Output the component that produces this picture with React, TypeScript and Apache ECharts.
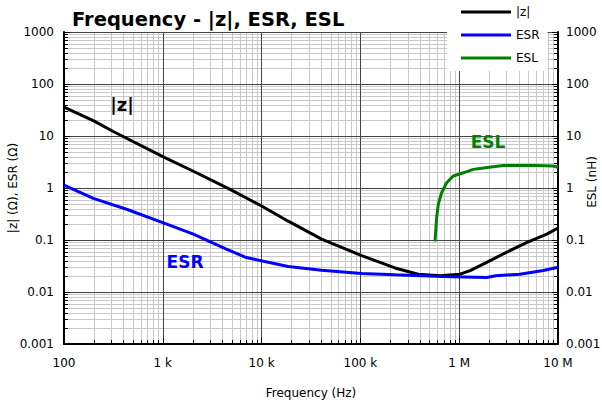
import React, { useEffect, useRef } from 'react';
import * as echarts from 'echarts';

// ---- data ----
const xTickLabels = ['100', '1 k', '10 k', '100 k', '1 M', '10 M'];
const yTickLabels = ['0.001', '0.01', '0.1', '1', '10', '100', '1000'];

const zFreq = [100, 200, 315, 1000, 2040, 4800, 10000, 18600, 40500, 103000, 224000, 385000, 640000, 1020000, 1290000, 1900000, 3000000, 4800000, 7700000, 10000000];
const zValues = [36, 19.5, 12.2, 4.0, 2.1, 0.94, 0.45, 0.23, 0.104, 0.05, 0.029, 0.022, 0.0206, 0.022, 0.0257, 0.037, 0.058, 0.089, 0.13, 0.17];

const esrFreq = [100, 198, 430, 1000, 2040, 4400, 7000, 12000, 18600, 40500, 103000, 224000, 665000, 1900000, 2350000, 4100000, 7100000, 10000000];
const esrValues = [1.13, 0.63, 0.39, 0.216, 0.13, 0.067, 0.046, 0.037, 0.031, 0.0263, 0.0227, 0.0214, 0.0198, 0.019, 0.0206, 0.022, 0.026, 0.03];

const eslFreq = [569000, 591000, 615000, 665000, 746000, 871000, 1100000, 1390000, 1620000, 2000000, 2800000, 6000000, 8900000, 10000000];
const eslValues = [0.094, 0.27, 0.49, 0.82, 1.26, 1.7, 1.96, 2.28, 2.38, 2.5, 2.72, 2.72, 2.64, 2.5];

const minorMultipliers = [2, 3, 4, 5, 6, 7, 8, 9];
const X_MIN = 100;
const X_MAX = 10000000;
const Y_MIN = 0.001;
const Y_MAX = 1000;

const FONT = 'DejaVu Sans';

export default function App() {
  const ref = useRef<HTMLDivElement>(null);

  useEffect(() => {
    const chart = echarts.init(ref.current!, null, { renderer: 'svg' });

    const minorX: number[] = [];
    for (let e = 2; e < 7; e++) for (const m of minorMultipliers) minorX.push(m * Math.pow(10, e));
    const minorY: number[] = [];
    for (let e = -3; e < 3; e++) for (const m of minorMultipliers) minorY.push(m * Math.pow(10, e));

    const crisp = (v: number) => Math.round(v) + 0.5;

    const xLabel = (v: number) => {
      const i = Math.round(Math.log10(v)) - 2;
      return xTickLabels[i] ?? '';
    };
    const yLabel = (v: number) => {
      const i = Math.round(Math.log10(v)) + 3;
      return yTickLabels[i] ?? '';
    };

    const pair = (xs: number[], ys: number[]) => xs.map((x, i) => [x, ys[i]]);

    const lineSeries = (name: string, data: number[][], color: string, yAxisIndex = 0) => ({
      name,
      type: 'line',
      yAxisIndex,
      data,
      showSymbol: false,
      symbol: 'none',
      smooth: false,
      lineStyle: { color, width: 3 },
      itemStyle: { color },
      z: 5,
      silent: true,
    });

    const option: any = {
      animation: false,
      backgroundColor: '#fff',
      textStyle: { fontFamily: FONT },
      grid: { left: 64, right: 44, top: 32, bottom: 59, containLabel: false, outerBoundsMode: 'none' },
      legend: {
        orient: 'vertical',
        left: 447,
        top: 0,
        padding: [6, 8, 7, 14],
        itemGap: 11,
        itemWidth: 50,
        itemHeight: 3,
        icon: 'rect',
        backgroundColor: '#fff',
        textStyle: { fontFamily: FONT, fontSize: 12, color: '#000' },
        data: ['|z|', 'ESR', 'ESL'],
        z: 3,
      },
      graphic: [
        {
          type: 'text', x: 72, y: 19, z: 10,
          style: { text: 'Frequency - |z|, ESR, ESL', fontFamily: FONT, fontSize: 19.5, fontWeight: 'bold', fill: '#000', textVerticalAlign: 'middle' },
        },
        {
          type: 'text', x: 13, y: 188, rotation: Math.PI / 2, z: 10,
          style: { text: '|z| (Ω), ESR (Ω)', fontFamily: FONT, fontSize: 12, fill: '#000', textAlign: 'center', textVerticalAlign: 'middle' },
        },
        {
          type: 'text', x: 592, y: 182, rotation: Math.PI / 2, z: 10,
          style: { text: 'ESL (nH)', fontFamily: FONT, fontSize: 12, fill: '#000', textAlign: 'center', textVerticalAlign: 'middle' },
        },
        {
          type: 'text', x: 122, y: 104, z: 10,
          style: { text: '|z|', fontFamily: FONT, fontSize: 18, fontWeight: 'bold', fill: '#000', textAlign: 'center', textVerticalAlign: 'middle' },
        },
        {
          type: 'text', x: 185, y: 262, z: 10,
          style: { text: 'ESR', fontFamily: FONT, fontSize: 17, fontWeight: 'bold', fill: '#0000ff', textAlign: 'center', textVerticalAlign: 'middle' },
        },
        {
          type: 'text', x: 488, y: 142, z: 10,
          style: { text: 'ESL', fontFamily: FONT, fontSize: 17, fontWeight: 'bold', fill: '#008000', textAlign: 'center', textVerticalAlign: 'middle' },
        },
      ],
      xAxis: {
        type: 'log',
        logBase: 10,
        min: X_MIN,
        max: X_MAX,
        splitNumber: 5,
        name: 'Frequency (Hz)',
        nameLocation: 'middle',
        nameGap: 43,
        nameMoveOverlap: false,
        nameTextStyle: { fontFamily: FONT, fontSize: 12, color: '#000' },
        axisLine: { show: true, lineStyle: { color: '#000', width: 2 } },
        axisTick: { show: true, inside: true, length: 6, lineStyle: { color: '#000' } },
        axisLabel: { formatter: xLabel, fontFamily: FONT, fontSize: 12, color: '#000', margin: 13 },
        splitLine: { show: true, lineStyle: { color: '#444', width: 1 } },
      },
      yAxis: [
        {
          type: 'log',
          logBase: 10,
          min: Y_MIN,
          max: Y_MAX,
          splitNumber: 6,
          position: 'left',
          axisLine: { show: true, lineStyle: { color: '#000', width: 2 } },
          axisTick: { show: true, inside: true, length: 6, lineStyle: { color: '#000' } },
          axisLabel: { formatter: yLabel, fontFamily: FONT, fontSize: 12, color: '#000', margin: 10 },
          splitLine: { show: true, lineStyle: { color: '#444', width: 1 } },
        },
        {
          type: 'log',
          logBase: 10,
          min: Y_MIN,
          max: Y_MAX,
          splitNumber: 6,
          position: 'right',
          axisLine: { show: true, lineStyle: { color: '#000', width: 2 } },
          axisTick: { show: true, inside: true, length: 6, lineStyle: { color: '#000' } },
          axisLabel: { formatter: yLabel, fontFamily: FONT, fontSize: 12, color: '#000', margin: 8 },
          splitLine: { show: false },
        },
      ],
      series: [
        {
          type: 'custom',
          silent: true,
          z: -1,
          clip: false,
          data: minorX.map((f) => [f, 1]),
          renderItem: (_p: any, api: any) => {
            const f = api.value(0);
            const top = api.coord([f, Y_MAX]);
            const bot = api.coord([f, Y_MIN]);
            const x = crisp(top[0]);
            return {
              type: 'group',
              children: [
                { type: 'line', shape: { x1: x, y1: top[1], x2: x, y2: bot[1] }, style: { stroke: '#c8c8c8', lineWidth: 1 } },
                { type: 'line', shape: { x1: x, y1: bot[1], x2: x, y2: bot[1] - 4 }, style: { stroke: '#000', lineWidth: 1 } },
              ],
            };
          },
        },
        {
          type: 'custom',
          silent: true,
          z: -1,
          clip: false,
          data: minorY.map((v) => [X_MIN, v]),
          renderItem: (_p: any, api: any) => {
            const v = api.value(1);
            const l = api.coord([X_MIN, v]);
            const r = api.coord([X_MAX, v]);
            const y = crisp(l[1]);
            return {
              type: 'group',
              children: [
                { type: 'line', shape: { x1: l[0], y1: y, x2: r[0], y2: y }, style: { stroke: '#c8c8c8', lineWidth: 1 } },
                { type: 'line', shape: { x1: l[0], y1: y, x2: l[0] + 4, y2: y }, style: { stroke: '#000', lineWidth: 1 } },
                { type: 'line', shape: { x1: r[0], y1: y, x2: r[0] - 4, y2: y }, style: { stroke: '#000', lineWidth: 1 } },
              ],
            };
          },
        },
        lineSeries('|z|', pair(zFreq, zValues), '#000000'),
        lineSeries('ESR', pair(esrFreq, esrValues), '#0000ff'),
        lineSeries('ESL', pair(eslFreq, eslValues), '#008000', 1),
      ],
    };

    chart.setOption(option);
    return () => chart.dispose();
  }, []);

  return <div ref={ref} style={{ position: 'absolute', left: 0, top: 0, width: 602, height: 403 }} />;
}
